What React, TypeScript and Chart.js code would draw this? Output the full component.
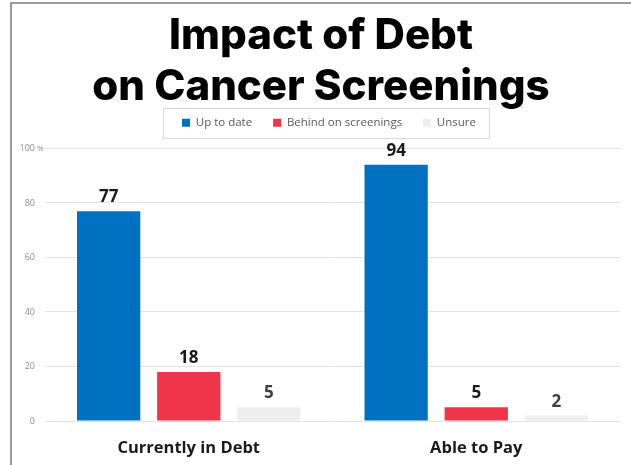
import React, { useEffect, useRef } from "react";
import { Chart, registerables, layouts } from "chart.js";

Chart.register(...registerables);

const titleLines = ["Impact of Debt", "on Cancer Screenings"];
const categories = ["Currently in Debt", "Able to Pay"];
const seriesNames = ["Up to date", "Behind on screenings", "Unsure"];
const upToDate = [77, 94];
const behind = [18, 5];
const unsure = [5, 2];
const seriesColors = ["#0070C0", "#F0344A", "#EEEEEE"];
const yTicks = [0, 20, 40, 60, 80, 100];

function makeSpacer(position: string, size: number, weight: number, fullSize: boolean) {
  return {
    position,
    weight,
    fullSize,
    options: {},
    left: 0,
    top: 0,
    right: 0,
    bottom: 0,
    width: 0,
    height: 0,
    isHorizontal() {
      return position === "top" || position === "bottom";
    },
    getPadding() {
      return { left: 0, top: 0, right: 0, bottom: 0 };
    },
    update(maxWidth: number, maxHeight: number) {
      if (this.isHorizontal()) {
        this.width = maxWidth;
        this.height = size;
      } else {
        this.width = size;
        this.height = maxHeight;
      }
    },
    draw() {},
  };
}

const spacers = {
  id: "spacers",
  beforeInit(chart: any) {
    layouts.addBox(chart, makeSpacer("top", 10, 500, true) as any);
    layouts.addBox(chart, makeSpacer("right", 11, 500, false) as any);
  },
  afterLayout(chart: any) {
    const lg = chart.legend;
    if (lg) {
      lg.left += 8;
      lg.right += 8;
    }
  },
};

const valueLabels = {
  id: "valueLabels",
  afterDatasetsDraw(chart: any) {
    const ctx = chart.ctx;
    ctx.save();
    ctx.font = "bold 17px 'Open Sans'";
    ctx.textAlign = "center";
    ctx.textBaseline = "alphabetic";
    chart.data.datasets.forEach((ds: any, i: number) => {
      const meta = chart.getDatasetMeta(i);
      meta.data.forEach((el: any, j: number) => {
        ctx.fillStyle = i === 2 ? "#404040" : "#1a1a1a";
        ctx.fillText(String(ds.data[j]), el.x, el.y - 9);
      });
    });
    ctx.restore();
  },
};

const percentSign = {
  id: "percentSign",
  afterDraw(chart: any) {
    const y = chart.scales.y;
    const ctx = chart.ctx;
    ctx.save();
    ctx.font = "8px 'Open Sans'";
    ctx.fillStyle = "#8C8C8C";
    ctx.textAlign = "left";
    ctx.textBaseline = "middle";
    ctx.fillText("%", y.right - 8, y.getPixelForValue(100));
    ctx.restore();
  },
};

const legendBox = {
  id: "legendBox",
  afterDraw(chart: any) {
    const lg = chart.legend;
    if (!lg || !lg.legendHitBoxes || !lg.legendHitBoxes.length) return;
    const boxes = lg.legendHitBoxes;
    const left = Math.min(...boxes.map((b: any) => b.left)) - 19;
    const right = Math.max(...boxes.map((b: any) => b.left + b.width)) + 13;
    const top = Math.min(...boxes.map((b: any) => b.top)) - 9;
    const bottom = Math.max(...boxes.map((b: any) => b.top + b.height)) + 9;
    const ctx = chart.ctx;
    ctx.save();
    ctx.strokeStyle = "#D9D9D9";
    ctx.lineWidth = 1;
    ctx.strokeRect(Math.round(left) + 0.5, Math.round(top) + 0.5, Math.round(right - left), Math.round(bottom - top));
    ctx.restore();
  },
};

export default function App() {
  const ref = useRef<HTMLCanvasElement | null>(null);
  useEffect(() => {
    if (!ref.current) return;
    const data = [upToDate, behind, unsure];
    const chart = new Chart(ref.current, {
      type: "bar",
      data: {
        labels: categories,
        datasets: seriesNames.map((name, i) => ({
          label: name,
          data: data[i],
          backgroundColor: seriesColors[i],
          borderWidth: 0,
          barPercentage: 0.79,
          categoryPercentage: 0.836,
        })),
      },
      options: {
        animation: false,
        responsive: false,
        maintainAspectRatio: false,
        layout: { padding: { left: 11, right: 0, top: 0, bottom: 0 } },
        plugins: {
          title: {
            display: true,
            text: titleLines,
            color: "#000000",
            font: { family: "Inter", size: 42, weight: "800", lineHeight: 1.214 },
            padding: { top: 11, bottom: -17 },
          },
          legend: {
            display: true,
            position: "top",
            labels: {
              boxWidth: 8,
              boxHeight: 8,
              color: "#595959",
              font: { family: "Open Sans", size: 11.5 },
              padding: 21,
            },
          },
          tooltip: { enabled: false },
        },
        scales: {
          x: {
            afterFit(scale: any) {
              scale.height = 44;
            },
            grid: { display: false, drawTicks: false },
            border: { display: false },
            ticks: {
              color: "#1a1a1a",
              font: { family: "Open Sans", size: 16.5, weight: "bold" },
              padding: 17,
            },
          },
          y: {
            min: 0,
            max: 100,
            afterFit(scale: any) {
              scale.width = 34;
            },
            afterBuildTicks(scale: any) {
              scale.ticks = yTicks.map((v) => ({ value: v }));
            },
            grid: { color: "#E3E3E3", drawTicks: false },
            border: { display: false },
            ticks: {
              color: "#8C8C8C",
              font: { family: "Open Sans", size: 9 },
              padding: 10,
              callback: (v: any) => String(v),
            },
          },
        },
      },
      plugins: [spacers, valueLabels, legendBox, percentSign],
    });
    return () => chart.destroy();
  }, []);
  return (
    <div
      style={{
        position: "fixed",
        left: 0,
        top: 0,
        width: 631,
        height: 465,
        background: "#ffffff",
      }}
    >
      <div
        style={{
          position: "absolute",
          left: 10,
          top: 2,
          right: 0,
          bottom: 0,
          borderLeft: "2px solid #9A9A9A",
          borderTop: "2px solid #9A9A9A",
        }}
      />
      <canvas
        ref={ref}
        width={631}
        height={465}
        style={{ position: "absolute", left: 0, top: 0 }}
      />
    </div>
  );
}
